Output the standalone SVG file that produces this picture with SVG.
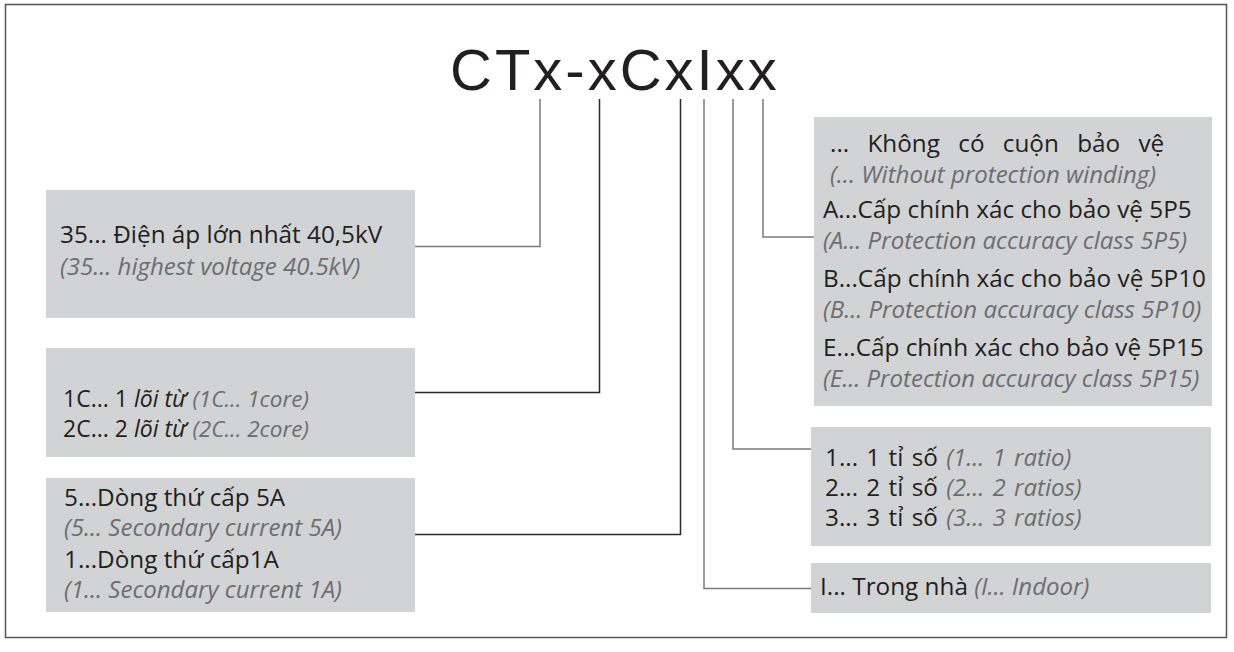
<svg xmlns="http://www.w3.org/2000/svg" width="1234" height="652" viewBox="0 0 1234 652">
<style>
.box{fill:#d1d3d4}
.t{font-family:"Open Sans","Noto Sans","DejaVu Sans",sans-serif;font-size:24.3px;fill:#231f20}
.i{font-family:"Open Sans","Noto Sans","DejaVu Sans",sans-serif;font-size:24px;font-style:italic;fill:#6d6e71}
.s{font-size:23px}
.si{font-size:22.5px}
.title{font-family:"Liberation Sans",Arial,sans-serif;font-size:58px;fill:#231f20;letter-spacing:3px}
.cd{fill:none;stroke:#2b2b2b;stroke-width:1.5}
.cg{fill:none;stroke:#7a7a7a;stroke-width:1.5}
</style>
<rect x="5.5" y="4.5" width="1221" height="633" fill="#ffffff" stroke="#555" stroke-width="1.5"/>
<g id="title"><text class="title" x="450" y="90">CTx-xCxIxx</text></g>
<g id="connectors">
<polyline class="cg" points="540,99 540,246.5 415,246.5"/>
<polyline class="cd" points="599.5,99 599.5,392.5 415,392.5"/>
<polyline class="cd" points="680.5,99 680.5,534.5 415,534.5"/>
<polyline class="cg" points="704,99 704,588.5 811,588.5"/>
<polyline class="cg" points="733,99 733,449 811,449"/>
<polyline class="cg" points="763,99 763,237 814,237"/>
</g>
<g id="n-voltage">
<rect class="box" x="46" y="190" width="369" height="128"/>
<text class="t" x="60" y="243">35... Điện áp lớn nhất 40,5kV</text>
<text class="i" x="60" y="275">(35... highest voltage 40.5kV)</text>
</g>
<g id="n-core">
<rect class="box" x="46" y="348" width="369" height="109"/>
<text class="t s" x="63" y="407">1C... 1 <tspan font-style="italic">lõi từ</tspan> <tspan class="i si">(1C... 1core)</tspan></text>
<text class="t s" x="63" y="437">2C... 2 <tspan font-style="italic">lõi từ</tspan> <tspan class="i si">(2C... 2core)</tspan></text>
</g>
<g id="n-current">
<rect class="box" x="46" y="478" width="369" height="134"/>
<text class="t" x="64" y="506">5...Dòng thứ cấp 5A</text>
<text class="i" x="64" y="536">(5... Secondary current 5A)</text>
<text class="t" x="64" y="568">1...Dòng thứ cấp1A</text>
<text class="i" x="64" y="598">(1... Secondary current 1A)</text>
</g>
<g id="n-protection">
<rect class="box" x="814" y="117" width="398" height="289"/>
<text class="t" x="830" y="152" word-spacing="12">... Không có cuộn bảo vệ</text>
<text class="i" x="830" y="183">(... Without protection winding)</text>
<text class="t" x="823" y="218">A...Cấp chính xác cho bảo vệ 5P5</text>
<text class="i" x="823" y="249">(A... Protection accuracy class 5P5)</text>
<text class="t" x="823" y="287">B...Cấp chính xác cho bảo vệ 5P10</text>
<text class="i" x="823" y="318">(B... Protection accuracy class 5P10)</text>
<text class="t" x="823" y="356">E...Cấp chính xác cho bảo vệ 5P15</text>
<text class="i" x="823" y="387">(E... Protection accuracy class 5P15)</text>
</g>
<g id="n-ratio">
<rect class="box" x="811" y="427" width="400" height="119"/>
<text class="t" x="825" y="466" word-spacing="2">1... 1 tỉ số <tspan class="i">(1... 1 ratio)</tspan></text>
<text class="t" x="825" y="496" word-spacing="2">2... 2 tỉ số <tspan class="i">(2... 2 ratios)</tspan></text>
<text class="t" x="825" y="526" word-spacing="2">3... 3 tỉ số <tspan class="i">(3... 3 ratios)</tspan></text>
</g>
<g id="n-indoor">
<rect class="box" x="811" y="563" width="400" height="50"/>
<text class="t" x="820" y="595">I... Trong nhà <tspan class="i">(I... Indoor)</tspan></text>
</g>
</svg>
